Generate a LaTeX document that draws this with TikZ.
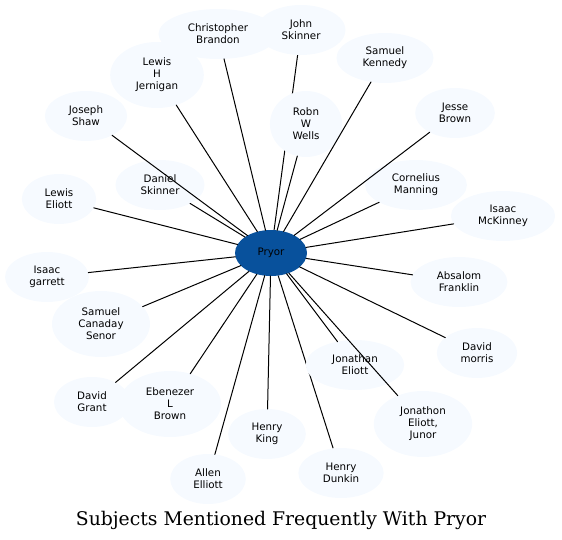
\documentclass[tikz,border=0pt]{standalone}
\usepackage{fontspec}
\newfontfamily\knotfont{DejaVu Sans}
\newfontfamily\titelfont{DejaVu Serif}
\usetikzlibrary{shapes.geometric,backgrounds}
\definecolor{fg}{RGB}{0,0,0}
\definecolor{pale}{RGB}{246,250,255}
\definecolor{core}{RGB}{8,81,156}
\tikzset{
  every picture/.style={fg, line width=1bp, line cap=round, line join=round},
  % Knoten
  subj/.style={ellipse, fill=pale, inner xsep=12bp, inner ysep=2bp, outer sep=0pt,
    minimum height=50bp, align=center, text=fg,
    font=\knotfont\fontsize{10.3bp}{12bp}\selectfont},
  subjiii/.style={subj, minimum height=66bp},
  hub/.style={subj, fill=core, minimum height=46bp},
  % Kanten
  link/.style={fg, line width=1bp},
  caption/.style={anchor=base, font=\titelfont\fontsize{18.8bp}{22bp}\selectfont},
}
\begin{document}
\begin{tikzpicture}[x=1bp, y=-1bp]
  \useasboundingbox (0,0) rectangle (562,540);
  % Mitte
  \node[hub] (pryor) at (271,253) {Pryor};
  % Personen, im Uhrzeigersinn ab oben
  \node[subj] (brandon) at (218,34) {Christopher\\Brandon};
  \node[subj] (jskinner) at (301,30) {John\\Skinner};
  \node[subj] (kennedy) at (385,58) {Samuel\\Kennedy};
  \node[subjiii] (jernigan) at (157,75) {Lewis\\H\\Jernigan};
  \node[subjiii] (wells) at (306,124) {Robn\\W\\Wells};
  \node[subj] (jbrown) at (455,113) {Jesse\\Brown};
  \node[subj] (shaw) at (86,116) {Joseph\\Shaw};
  \node[subj] (dskinner) at (160,185) {Daniel\\Skinner};
  \node[subj] (manning) at (416,185) {Cornelius\\Manning};
  \node[subj] (leliott) at (59,199) {Lewis\\Eliott};
  \node[subj] (mckinney) at (503,216) {Isaac\\McKinney};
  \node[subj] (garrett) at (47,277) {Isaac\\garrett};
  \node[subj] (franklin) at (459,282) {Absalom\\Franklin};
  \node[subjiii] (canaday) at (101,324) {Samuel\\Canaday\\Senor};
  \node[subj] (morris) at (477,353) {David\\morris};
  \node[subj] (jeliott) at (355,365) {Jonathan\\Eliott};
  \node[subj] (grant) at (92,402) {David\\Grant};
  \node[subjiii] (ebrown) at (170,404) {Ebenezer\\L\\Brown};
  \node[subjiii] (junor) at (423,424) {Jonathon\\Eliott,\\Junor};
  \node[subj] (king) at (267,434) {Henry\\King};
  \node[subj] (dunkin) at (341,473) {Henry\\Dunkin};
  \node[subj] (aelliott) at (208,479) {Allen\\Elliott};
  % Kanten (zwei davon hinter anderen Knoten)
  \foreach \n in {brandon,kennedy,jernigan,wells,jbrown,shaw,dskinner,manning,leliott,
    mckinney,garrett,franklin,canaday,morris,jeliott,grant,ebrown,junor,king,aelliott}
    \draw[link] (pryor) -- (\n);
  \begin{pgfonlayer}{background}
    \foreach \n in {jskinner,dunkin}
      \draw[link] (pryor) -- (\n);
  \end{pgfonlayer}
  % Titel
  \node[caption] (title) at (281,525) {Subjects Mentioned Frequently With Pryor};
\end{tikzpicture}
\end{document}
